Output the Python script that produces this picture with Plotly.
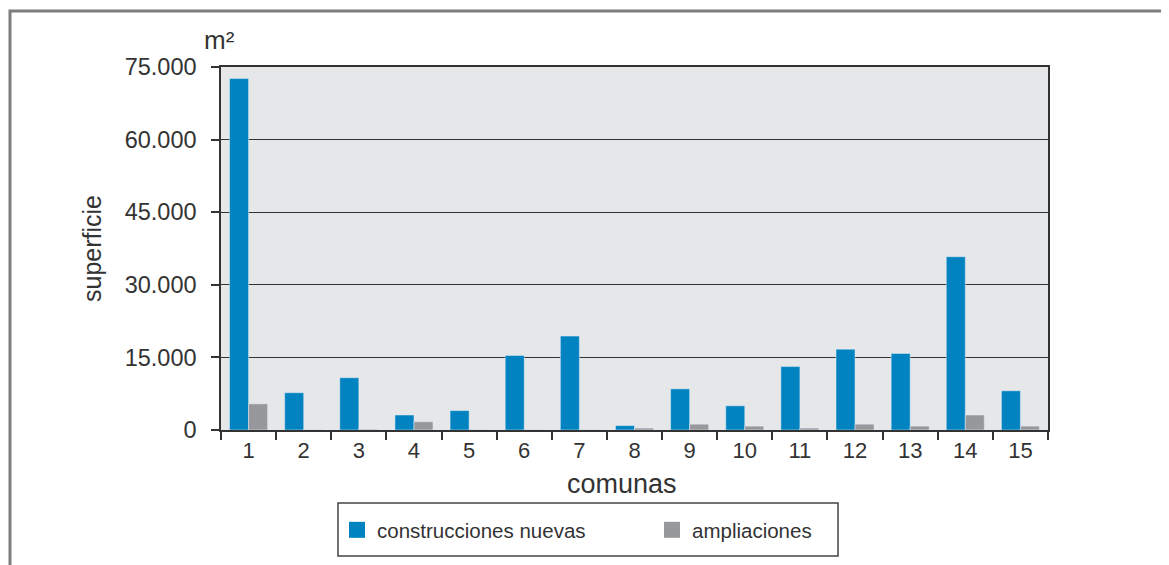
import plotly.graph_objects as go

comunas = [str(i) for i in range(1, 16)]
construcciones_nuevas = [72600, 7700, 10800, 3100, 4000, 15400, 19400, 900,
                         8500, 5000, 13100, 16700, 15800, 35800, 8100]
ampliaciones = [5400, 100, 150, 1700, 100, 100, 100, 400,
                1200, 800, 400, 1200, 800, 3100, 800]
y_ticks = [0, 15000, 30000, 45000, 60000, 75000]

BLUE = "#0083c0"
GRAY = "#97989b"
TXT = "#333333"
FONT = "Liberation Sans"

OFF = 8  # page body margin
W, H = 1169 - OFF, 565 - OFF
L, T = 221 - OFF, 67 - OFF
pw, ph = 827, 363
R, B = W - L - pw, H - T - ph


def px(x):
    return (x - OFF - L) / pw


def py(y):
    return (T + ph - (y - OFF)) / ph


fig = go.Figure()
fig.add_trace(go.Bar(x=comunas, y=construcciones_nuevas, marker_color=BLUE,
                     showlegend=False, name="construcciones nuevas"))
fig.add_trace(go.Bar(x=comunas, y=ampliaciones, marker_color=GRAY,
                     showlegend=False, name="ampliaciones"))
# legend entries
fig.add_trace(go.Scatter(x=[None], y=[None], mode="markers", name="construcciones nuevas",
                         marker=dict(symbol="square", size=16, color=BLUE),
                         legendwidth=270))
fig.add_trace(go.Scatter(x=[None], y=[None], mode="markers", name="ampliaciones",
                         marker=dict(symbol="square", size=16, color=GRAY)))

fig.update_layout(
    width=W, height=H,
    margin=dict(l=L, r=R, t=T, b=B, autoexpand=False),
    paper_bgcolor="white",
    plot_bgcolor="#e6e7e9",
    barmode="group",
    bargap=0.31,
    bargroupgap=0,
    separators=",.",
    font=dict(family=FONT, color=TXT, size=20),
    showlegend=True,
    legend=dict(orientation="h", x=px(337), xanchor="left", y=py(530), yanchor="middle",
                font=dict(family=FONT, size=20.5, color=TXT),
                bgcolor="rgba(0,0,0,0)", borderwidth=0),
    shapes=[
        dict(type="rect", xref="paper", yref="paper",
             x0=px(10), x1=px(1185), y0=py(585), y1=py(11),
             line=dict(color="#7d7d7d", width=3), fillcolor="rgba(0,0,0,0)", layer="below"),
        dict(type="rect", xref="paper", yref="paper",
             x0=px(338), x1=px(838), y0=py(556), y1=py(503),
             line=dict(color="#444444", width=1.5), fillcolor="white", layer="below"),
    ],
    annotations=[
        dict(text="m²", xref="paper", yref="paper", x=px(219), y=py(40),
             xanchor="center", yanchor="middle", showarrow=False,
             font=dict(family=FONT, size=26, color=TXT)),
        dict(text="comunas", xref="paper", yref="paper", x=px(622), y=py(484),
             xanchor="center", yanchor="middle", showarrow=False,
             font=dict(family=FONT, size=27, color=TXT)),
    ],
)

fig.update_xaxes(
    type="category",
    tickson="boundaries",
    ticks="outside", ticklen=8, tickcolor=TXT, tickwidth=1.5,
    tickfont=dict(family=FONT, size=22, color=TXT),
    showgrid=False,
    showline=True, linecolor=TXT, linewidth=1.5, mirror=True,
)
fig.update_yaxes(
    range=[0, 75000],
    tickvals=y_ticks,
    tickformat=",d",
    ticks="outside", ticklen=8, tickcolor=TXT, tickwidth=1.5,
    tickfont=dict(family=FONT, size=23.5, color=TXT),
    ticklabelstandoff=10,
    showgrid=True, gridcolor="#333333", gridwidth=1,
    zeroline=False,
    showline=True, linecolor=TXT, linewidth=1.5, mirror=True,
    title=dict(text="superficie", standoff=16,
               font=dict(family=FONT, size=25, color=TXT)),
)

fig.write_html("out.html")
